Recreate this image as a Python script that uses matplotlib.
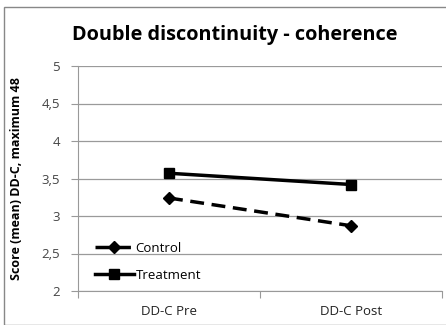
import matplotlib
matplotlib.use("Agg")
import matplotlib.pyplot as plt
from matplotlib.ticker import FixedLocator, FuncFormatter

plt.rcParams["font.family"] = ["Open Sans", "DejaVu Sans"]

categories = ["DD-C Pre", "DD-C Post"]
control = [3.24, 2.87]
treatment = [3.57, 3.42]
y_ticks = [2, 2.5, 3, 3.5, 4, 4.5, 5]

fig = plt.figure(figsize=(4.46, 3.25), dpi=100)
# outer chart frame
fig.add_artist(plt.Rectangle((4 / 446, 0.0), 1.0, 1 - 7 / 325, fill=False,
                             edgecolor="#888888", linewidth=1.0,
                             transform=fig.transFigure))
ax = fig.add_axes([78 / 446, 1 - 291 / 325, 364 / 446, 225 / 325])

x = [0.5, 1.5]
ax.plot(x, control, color="black", linestyle=(0, (4, 2.2)), linewidth=2.5,
        marker="D", markersize=6, label="Control")
ax.plot(x, treatment, color="black", linestyle="-", linewidth=2.5,
        marker="s", markersize=7, label="Treatment")

ax.set_xlim(0, 2)
ax.set_ylim(2, 5)
ax.yaxis.set_major_locator(FixedLocator(y_ticks))
ax.yaxis.set_major_formatter(FuncFormatter(lambda v, p: f"{v:g}".replace(".", ",")))
ax.xaxis.set_major_locator(FixedLocator([0, 1, 2]))
ax.xaxis.set_major_formatter(FuncFormatter(lambda v, p: ""))
ax.xaxis.set_minor_locator(FixedLocator(x))
ax.set_xticklabels(categories, minor=True)
ax.tick_params(axis="x", which="minor", length=0, pad=10, labelsize=9.5, colors="#222222")
ax.tick_params(axis="x", which="major", length=5, color="#999999")
ax.tick_params(axis="y", length=5, pad=8, color="#999999", labelsize=9.5, labelcolor="#444444")

ax.grid(axis="y", color="#9a9a9a", linewidth=0.9)
for s in ["top", "right"]:
    ax.spines[s].set_visible(False)
for s in ["left", "bottom"]:
    ax.spines[s].set_color("#999999")

ax.set_ylabel("Score (mean) DD-C, maximum 48", fontsize=9, fontweight="bold",
              labelpad=13)

fig.text(235 / 446, 1 - 35 / 325, "Double discontinuity - coherence",
         fontsize=14.3, fontweight="bold", ha="center", va="center")

leg = ax.legend(loc="lower left", bbox_to_anchor=(0.02, 0.0), frameon=False,
                fontsize=9.5, handlelength=3.0, handletextpad=0.1,
                labelspacing=1.05, borderaxespad=0.3)

fig.savefig("out.png", dpi=100, facecolor="white")
